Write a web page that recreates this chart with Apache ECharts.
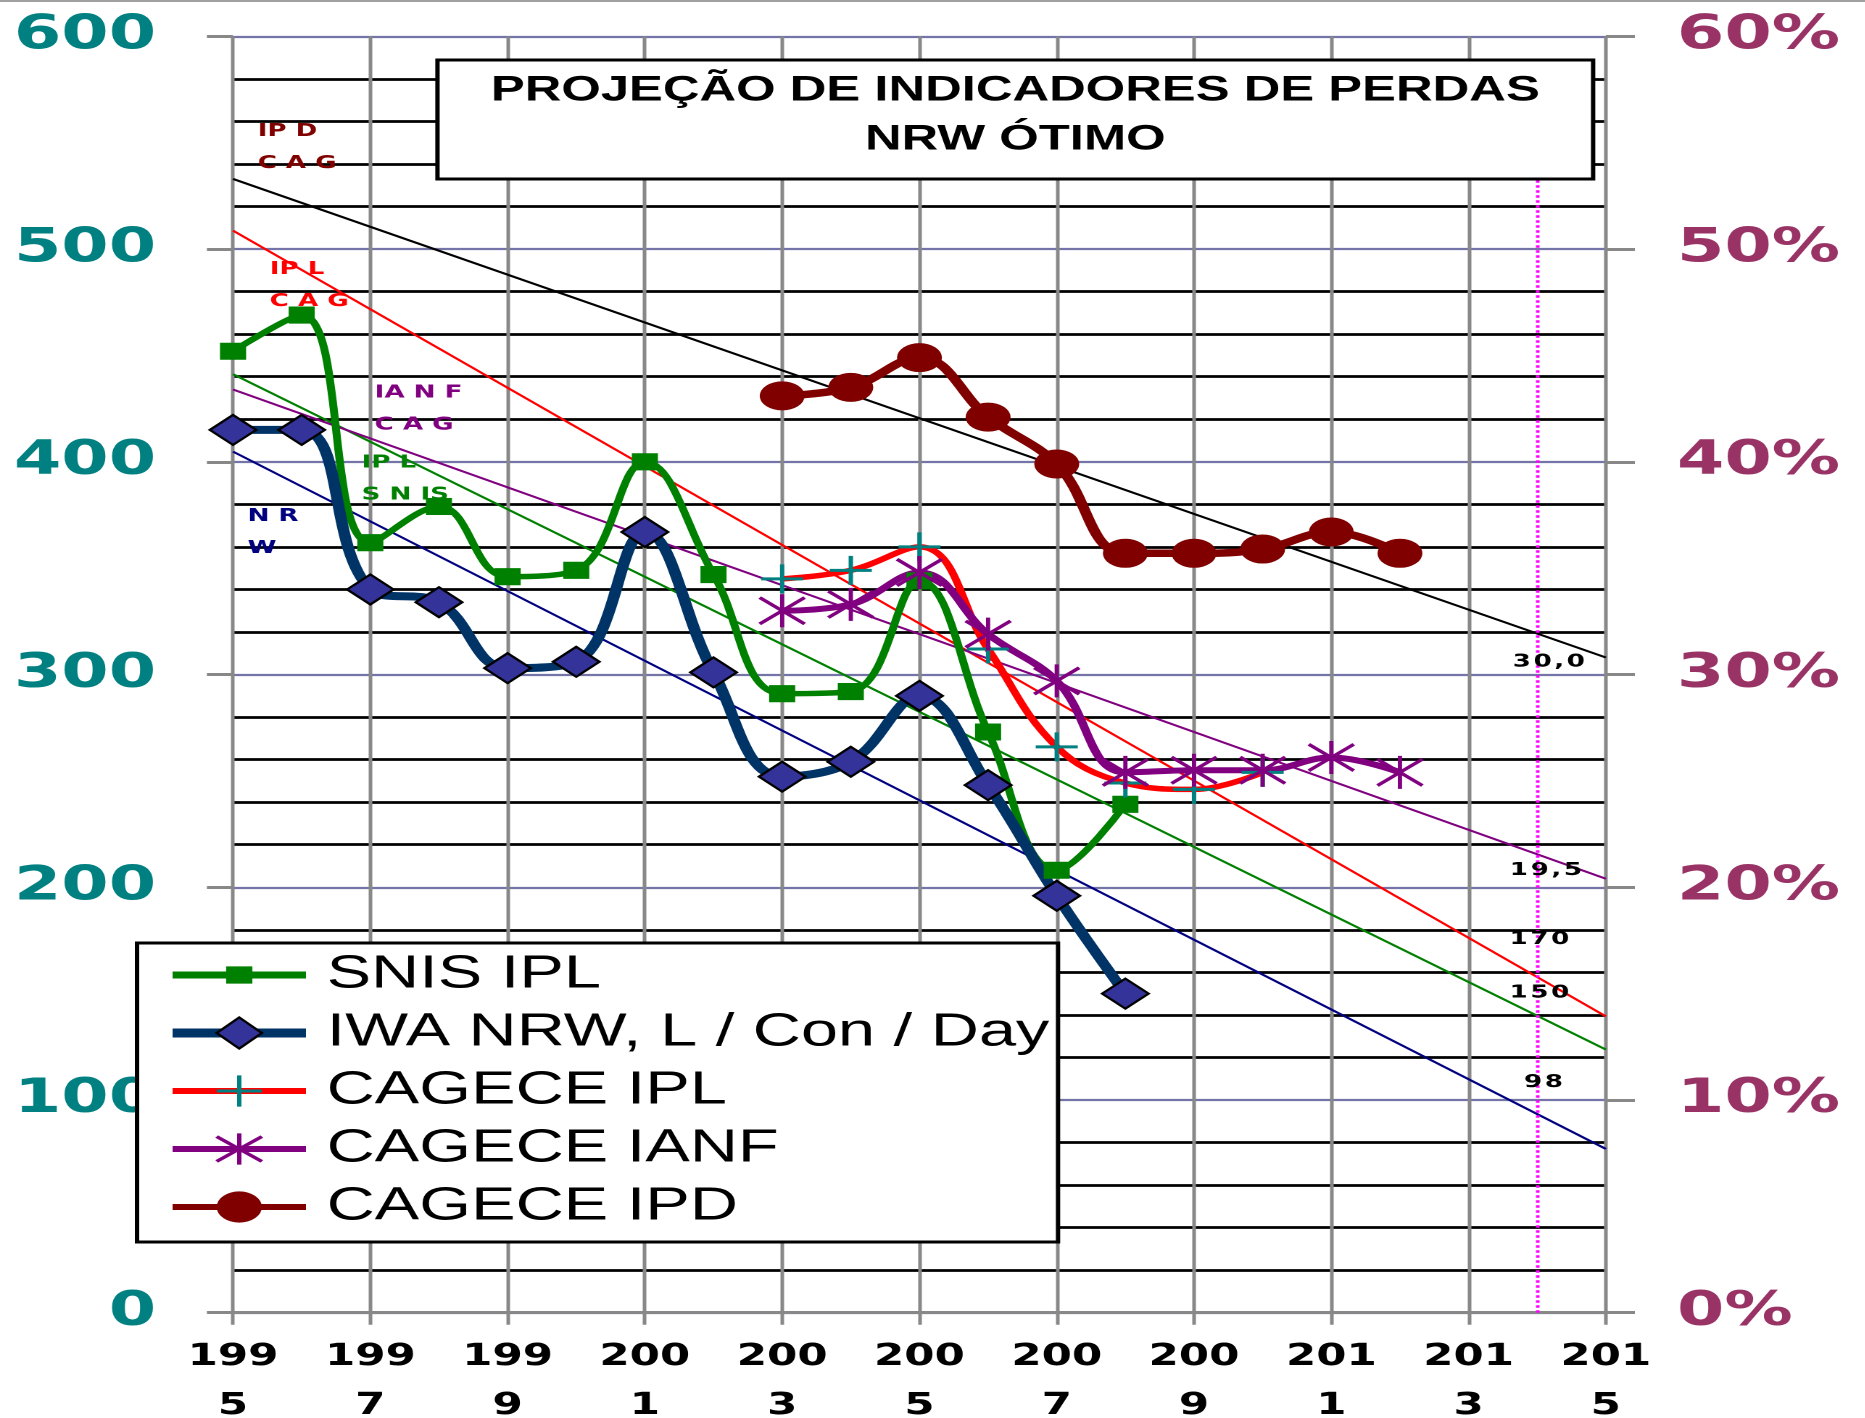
<!DOCTYPE html>
<html>
<head>
<meta charset="utf-8">
<title>Projeção de indicadores de perdas - NRW ótimo</title>
<script src="https://cdn.jsdelivr.net/npm/echarts@6/dist/echarts.min.js"></script>
<style>
  html, body { margin: 0; padding: 0; background: #fff; overflow: hidden; }
  #chart { height: 1418px; transform-origin: 0 0; }
</style>
</head>
<body>
<div id="chart"></div>
<script>
// the original picture is stretched sideways: draw narrower, then stretch with css
const STRETCH = 1.45
const W = 1865 / STRETCH
const el = document.getElementById('chart')
el.style.width = W + 'px'
el.style.transform = 'scaleX(' + STRETCH + ')'

const years = ['1995', '1996', '1997', '1998', '1999', '2000', '2001', '2002', '2003', '2004',
  '2005', '2006', '2007', '2008', '2009', '2010', '2011', '2012', '2013', '2014', '2015']

// L / con / day, 1995..2008
const snisYears = ['1995', '1996', '1997', '1998', '1999', '2000', '2001', '2002', '2003', '2004', '2005', '2006', '2007', '2008']
const snisIpl = [452, 469, 362, 379, 346, 349, 400, 347, 291, 292, 344, 273, 208, 239]
const iwaNrw = [415, 415, 340, 334, 303, 306, 367, 301, 252, 259, 290, 248, 196, 150]

// CAGECE, from 2003
const cageceYears = ['2003', '2004', '2005', '2006', '2007', '2008', '2009', '2010', '2011', '2012']
const cageceIpl = [345, 349, 360, 312, 266, 249, 246, 254]          // L / con / day
const cageceIanf = [33.0, 33.3, 34.8, 31.9, 29.7, 25.4, 25.5, 25.5, 26.1, 25.4]  // %
const cageceIpd = [43.1, 43.5, 44.9, 42.1, 39.9, 35.7, 35.7, 35.9, 36.7, 35.7]   // %

// trend lines, value at 1995 and at 2015
const trendIpd = [53.3, 30.8]      // %
const trendIplCag = [508.7, 139.3]
const trendSnis = [441.2, 123.7]
const trendIanf = [43.4, 20.4]     // %
const trendNrw = [404.8, 77.0]

// texts written on the trend lines
const tagTexts = ['IP D\nC A G', 'IP L\nC A G', 'IP L\nS N IS', 'IA N F\nC A G', 'N R\nW']
const tagColors = ['#800000', '#ff0000', '#008000', '#800080', '#000080']
const metaTexts = ['30,0', '170', '150', '19,5', '98']
// where they sit: [category, value, x shift] and [value, x shift] at 2014
const tagAt = [['1995', 56.3, 17], ['1996', 498, -22], ['1997', 407, -6], ['1997', 44.0, 3], ['1995', 382, 10]]
const metaAt = [[30.6, 8], [175.6, 1.5], [150.3, 1.5], [20.8, 6], [108.3, 4.3]]

const SQUARE = 'path://M-1,-1M1,1M-0.58,-0.55L0.58,-0.55L0.58,0.55L-0.58,0.55Z'
const PLUS = 'path://M0,-1L0,1M-1,0L1,0'
const STAR = 'path://M0,-1L0,1M-1,-0.8L1,0.8M-1,0.8L1,-0.8'

const bold = { fontFamily: 'DejaVu Sans', fontWeight: 'bold' }

function pairs (xs, vs) {
  return vs.map((v, i) => [xs[i], v])
}

// small numbers are letter spaced in the original
function spaced (s) {
  return s.split('').join('\u200a')
}

function trend (i, name, ends, color, yAxisIndex) {
  return {
    name: name,
    type: 'line',
    yAxisIndex: yAxisIndex,
    silent: true,
    symbol: 'none',
    z: 1,
    lineStyle: { color: color, width: 2 },
    data: [['1995', ends[0]], ['2015', ends[1]]],
    markPoint: {
      symbol: 'circle',
      symbolSize: 0,
      silent: true,
      label: Object.assign({ show: true, position: 'inside', formatter: '{b}', fontSize: 18 }, bold),
      data: [
        {
          name: tagTexts[i],
          coord: [tagAt[i][0], tagAt[i][1]],
          label: { color: tagColors[i], align: 'left', verticalAlign: 'top', lineHeight: 32, offset: [tagAt[i][2], 0] }
        },
        {
          name: spaced(metaTexts[i]),
          coord: ['2014', metaAt[i][0]],
          label: { color: '#000', align: 'center', verticalAlign: 'middle', offset: [metaAt[i][1], 0] }
        }
      ]
    }
  }
}

const nrwTrend = trend(4, 'tend NRW', trendNrw, '#000080', 0)
nrwTrend.markLine = {
  symbol: ['none', 'none'],
  silent: true,
  label: { show: false },
  lineStyle: { color: '#ff00ff', type: 'dotted', width: 2.5 },
  data: [[{ coord: ['2014', 0] }, { coord: ['2014', 560] }]]
}

const chart = echarts.init(el, null, { renderer: 'canvas', devicePixelRatio: 2 })

chart.setOption({
  animation: false,
  backgroundColor: '#fff',
  textStyle: { fontFamily: 'DejaVu Sans' },
  title: {
    text: 'PROJEÇÃO DE INDICADORES DE PERDAS\nNRW ÓTIMO',
    // text centre lands at left + left padding
    left: 663.2,
    top: 60,
    textAlign: 'center',
    padding: [6.5, 37, 14.5, 37],
    backgroundColor: '#fff',
    borderColor: '#000',
    borderWidth: 3,
    textStyle: { fontFamily: 'Liberation Sans', fontWeight: 'bold', fontSize: 35, lineHeight: 49, color: '#000' }
  },
  legend: {
    orient: 'vertical',
    left: 94.5,
    top: 943,
    padding: [9, 6, 12, 20],
    itemGap: 12,
    itemWidth: 92,
    itemHeight: 39,
    selectedMode: false,
    backgroundColor: '#fff',
    borderColor: '#000',
    borderWidth: 3,
    formatter: '\u2009{name}',
    textStyle: { fontFamily: 'Liberation Sans', fontSize: 46, lineHeight: 46, color: '#000' },
    data: [
      { name: 'SNIS IPL', itemStyle: { color: '#008000', borderWidth: 0 }, lineStyle: { color: '#008000', width: 7 } },
      { name: 'IWA NRW, L / Con / Day', itemStyle: { color: '#333399', borderColor: '#000', borderWidth: 2 }, lineStyle: { color: '#003366', width: 9 } },
      { name: 'CAGECE IPL', itemStyle: { color: 'rgba(0,0,0,0)', borderColor: '#008080', borderWidth: 3 }, lineStyle: { color: '#ff0000', width: 6 } },
      { name: 'CAGECE IANF', itemStyle: { color: 'rgba(0,0,0,0)', borderColor: '#800080', borderWidth: 3 }, lineStyle: { color: '#800080', width: 6 } },
      { name: 'CAGECE IPD', itemStyle: { color: '#800000', borderWidth: 0 }, lineStyle: { color: '#800000', width: 6 } }
    ]
  },
  graphic: [
    { type: 'rect', left: 0, top: 0, silent: true, shape: { width: W, height: 2 }, style: { fill: '#a0a0a0' } }
  ],
  grid: {
    left: 160.7,
    right: W - 1107.7,
    top: 36.4,
    bottom: 1418 - 1312.7,
    containLabel: false,
    outerBoundsMode: 'none'
  },
  xAxis: {
    type: 'category',
    data: years,
    boundaryGap: false,
    axisLine: { show: true, lineStyle: { color: '#888', width: 3 } },
    axisTick: { show: true, interval: 1, length: 12, lineStyle: { color: '#888', width: 2.5 } },
    axisLabel: Object.assign({
      interval: 1,
      margin: 20,
      color: '#000',
      fontSize: 30,
      lineHeight: 49,
      formatter: v => v.slice(0, 3) + '\n' + v.slice(3)
    }, bold),
    splitLine: { show: true, interval: 1, lineStyle: { color: '#888', width: 2.5 } }
  },
  yAxis: [
    {
      type: 'value',
      position: 'left',
      min: 0,
      max: 600,
      interval: 100,
      axisLine: { show: false },
      axisTick: { show: true, length: 18, lineStyle: { color: '#888', width: 3 } },
      axisLabel: Object.assign({ margin: 53, color: '#008080', fontSize: 47 }, bold),
      splitLine: { show: true, lineStyle: { color: '#7474a8', width: 2.2 } },
      minorTick: { show: false, splitNumber: 5 },
      minorSplitLine: { show: true, lineStyle: { color: '#000', width: 2.8 } }
    },
    {
      type: 'value',
      position: 'right',
      min: 0,
      max: 60,
      interval: 10,
      axisLine: { show: false },
      axisTick: { show: true, length: 20, lineStyle: { color: '#888', width: 3 } },
      axisLabel: Object.assign({ margin: 49, color: '#993366', fontSize: 47, formatter: '{value}%' }, bold),
      splitLine: { show: false }
    }
  ],
  series: [
    trend(0, 'tend IPD', trendIpd, '#000000', 1),
    trend(1, 'tend IPL CAG', trendIplCag, '#ff0000', 0),
    trend(2, 'tend IPL SNIS', trendSnis, '#008000', 0),
    trend(3, 'tend IANF', trendIanf, '#800080', 1),
    nrwTrend,
    {
      name: 'SNIS IPL',
      type: 'line',
      smooth: 0.4,
      showAllSymbol: true,
      symbol: SQUARE,
      symbolSize: 31,
      lineStyle: { color: '#008000', width: 5.5 },
      itemStyle: { color: '#008000' },
      data: pairs(snisYears, snisIpl)
    },
    {
      name: 'IWA NRW, L / Con / Day',
      type: 'line',
      smooth: 0.4,
      showAllSymbol: true,
      symbol: 'diamond',
      symbolSize: [32, 30],
      lineStyle: { color: '#003366', width: 8 },
      itemStyle: { color: '#333399', borderColor: '#000', borderWidth: 2 },
      data: pairs(snisYears, iwaNrw)
    },
    {
      name: 'CAGECE IPL',
      type: 'line',
      smooth: 0.4,
      showAllSymbol: true,
      symbol: PLUS,
      symbolSize: [29, 29],
      lineStyle: { color: '#ff0000', width: 5.5 },
      itemStyle: { color: 'rgba(0,0,0,0)', borderColor: '#008080', borderWidth: 3 },
      data: pairs(cageceYears, cageceIpl)
    },
    {
      name: 'CAGECE IANF',
      type: 'line',
      yAxisIndex: 1,
      smooth: 0.4,
      showAllSymbol: true,
      symbol: STAR,
      symbolSize: [31, 33],
      lineStyle: { color: '#800080', width: 6 },
      itemStyle: { color: 'rgba(0,0,0,0)', borderColor: '#800080', borderWidth: 3 },
      data: pairs(cageceYears, cageceIanf)
    },
    {
      name: 'CAGECE IPD',
      type: 'line',
      yAxisIndex: 1,
      smooth: 0.4,
      showAllSymbol: true,
      symbol: 'circle',
      symbolSize: [31, 29],
      lineStyle: { color: '#800000', width: 7.5 },
      itemStyle: { color: '#800000' },
      data: pairs(cageceYears, cageceIpd)
    }
  ]
})
</script>
</body>
</html>
